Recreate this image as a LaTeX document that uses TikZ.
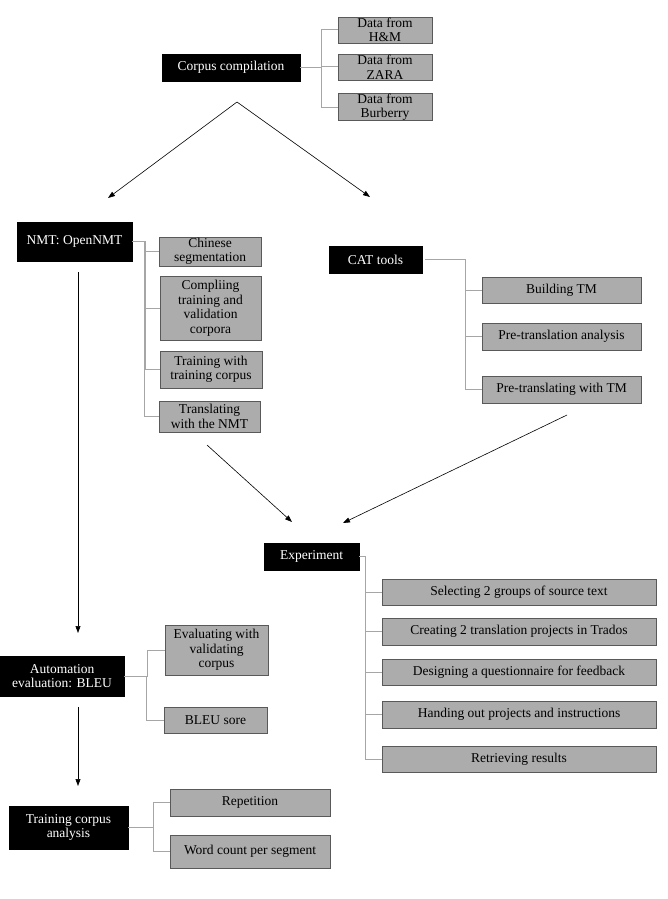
\documentclass[tikz,border=0pt]{standalone}
\usepackage{fontspec}
\setmainfont{Liberation Serif}
\usetikzlibrary{arrows.meta}
\begin{document}
\begin{tikzpicture}[x=1pt,y=-1pt,
  bx/.style={draw=#1!70!black,line width=0.6pt,inner sep=0pt,align=center,font=\fontsize{13.5}{14.5}\selectfont},
  blk/.style={bx=black,fill=black,text=white},
  gry/.style={bx=gray,fill=gray!65,text=black},
  ln/.style={draw=gray!70,line width=1pt},
  ar/.style={draw=black,line width=0.6pt,-{Triangle[length=7pt,width=5pt]}}]
\useasboundingbox (0,0) rectangle (668,899);
\newcommand\bbox[7]{\node[#1,minimum width={#4-#3},minimum height={#6-#5}] (#2) at ({(#3+#4)/2},{(#5+#6)/2+1}) {#7};}
\bbox{blk}{corpus}{162}{300}{53}{80}{Corpus compilation}
\bbox{gry}{hm}{338}{432}{16}{42}{Data from\\H\&M}
\bbox{gry}{zara}{338}{432}{53}{79}{Data from\\ZARA}
\bbox{gry}{burb}{338}{432}{93}{119}{Data from\\Burberry}
\bbox{blk}{nmt}{17}{132}{221}{260}{NMT: OpenNMT}
\bbox{gry}{chin}{159}{261}{236}{265}{Chinese\\segmentation}
\bbox{gry}{comp}{160}{261}{275}{339}{Compliing\\training and\\validation\\corpora}
\bbox{gry}{train}{160}{262}{350}{387}{Training with\\training corpus}
\bbox{gry}{transl}{159}{260}{400}{431}{Translating\\with the NMT}
\bbox{blk}{cat}{329}{422}{245}{272}{CAT tools}
\bbox{gry}{build}{482}{641}{276}{302}{Building TM}
\bbox{gry}{pana}{482}{641}{322}{349}{Pre-translation analysis}
\bbox{gry}{ptm}{482}{641}{375}{402}{Pre-translating with TM}
\bbox{blk}{exp}{264}{359}{542}{569}{Experiment}
\bbox{gry}{sel}{382}{656}{578}{604}{Selecting 2 groups of source text}
\bbox{gry}{cre}{382}{656}{617}{644}{Creating 2 translation projects in Trados}
\bbox{gry}{des}{382}{656}{658}{684}{Designing a questionnaire for feedback}
\bbox{gry}{han}{382}{656}{700}{727}{Handing out projects and instructions}
\bbox{gry}{ret}{382}{656}{745}{771}{Retrieving results}
\bbox{blk}{auto}{0}{124}{655}{695}{Automation\\evaluation: BLEU}
\bbox{gry}{eval}{165}{268}{624}{674}{Evaluating with\\validating\\corpus}
\bbox{gry}{bleu}{164}{267}{706}{732}{BLEU sore}
\bbox{blk}{tca}{9}{128}{805}{848}{Training corpus\\analysis}
\bbox{gry}{rep}{170}{330}{788}{815}{Repetition}
\bbox{gry}{wc}{170}{330}{834}{867}{Word count per segment}
% brackets
\foreach \c in {hm,zara,burb}{\draw[ln] (corpus.east) -| ([xshift=-16pt]\c.west) -- (\c.west);}
\foreach \c in {chin,comp,train,transl}{\draw[ln] (nmt.east) -| ([xshift=-14pt]\c.west) -- (\c.west);}
\foreach \c in {build,pana,ptm}{\draw[ln] ([xshift=3pt]cat.east) -| ([xshift=-16pt]\c.west) -- (\c.west);}
\foreach \c in {sel,cre,des,han,ret}{\draw[ln] (exp.east) -| ([xshift=-16pt]\c.west) -- (\c.west);}
\foreach \c in {eval,bleu}{\draw[ln] (auto.east) -| ([xshift=-17pt]\c.west) -- (\c.west);}
\foreach \c in {rep,wc}{\draw[ln] (tca.east) -| ([xshift=-16pt]\c.west) -- (\c.west);}
% arrows
\coordinate (apex) at (237,102);
\coordinate (l1) at (108,198);
\coordinate (r1) at (370,197);
\draw[ar] (apex) -- (l1);
\draw[ar] (apex) -- (r1);
\coordinate (na) at (78,272); \coordinate (nb) at (78,633);
\draw[ar] (na) -- (nb);
\coordinate (aa) at (78,707); \coordinate (ab) at (78,786);
\draw[ar] (aa) -- (ab);
\coordinate (t1) at (207,445); \coordinate (t2) at (292,522);
\draw[ar] (t1) -- (t2);
\coordinate (c1) at (567,415); \coordinate (c2) at (343,523);
\draw[ar] (c1) -- (c2);
\end{tikzpicture}
\end{document}
